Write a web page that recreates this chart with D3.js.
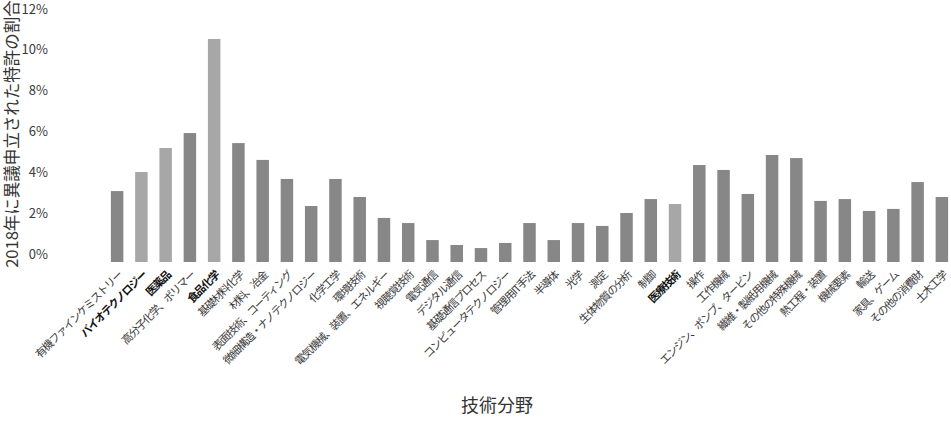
<!DOCTYPE html>
<html lang="ja">
<head>
<meta charset="UTF-8">
<title>異議申立の割合</title>
<script src="https://d3js.org/d3.v7.min.js"></script>
<style>
  body { margin: 0; background: #fff; }
  text { font-family: "Noto Sans CJK JP", "Noto Sans", sans-serif; }
</style>
</head>
<body>
<script>
// technology fields and share of opposed patents (%), 2018
var fields = [
  "有機ファインケミストリー", "バイオテクノロジー", "医薬品", "高分子化学、ポリマー", "食品化学",
  "基礎材料化学", "材料、冶金", "表面技術、コーティング", "微細構造・ナノテクノロジー", "化学工学",
  "環境技術", "電気機械、装置、エネルギー", "視聴覚技術", "電気通信", "デジタル通信",
  "基礎通信プロセス", "コンピュータテクノロジー", "管理用IT手法", "半導体", "光学",
  "測定", "生体物質の分析", "制御", "医療技術", "操作",
  "工作機械", "エンジン、ポンプ、タービン", "繊維・製紙用機械", "その他の特殊機械", "熱工程・装置",
  "機械要素", "輸送", "家具、ゲーム", "その他の消費財", "土木工学"
];
var shares = [
  3.46, 4.39, 5.56, 6.29, 10.88,
  5.80, 4.98, 4.05, 2.73, 4.05,
  3.17, 2.15, 1.90, 1.07, 0.83,
  0.68, 0.93, 1.90, 1.07, 1.90,
  1.76, 2.39, 3.07, 2.83, 4.73,
  4.49, 3.32, 5.22, 5.07, 2.98,
  3.07, 2.49, 2.59, 3.90, 3.17
];
var highlighted = ["バイオテクノロジー", "医薬品", "食品化学", "医療技術"];
var yTicks = [0, 2, 4, 6, 8, 10, 12];

var w = 951, h = 421;

var svg = d3.select("body").append("svg")
  .attr("width", w)
  .attr("height", h);

var x = d3.scaleBand()
  .domain(fields)
  .range([105, 954])
  .paddingInner(0.485)
  .paddingOuter(0.2425);

var y = d3.scaleLinear()
  .domain([0, 12])
  .range([262, 16]);

// y tick labels (sit just above their value)
svg.append("g")
  .selectAll("text")
  .data(yTicks)
  .enter()
  .append("text")
  .attr("x", 48)
  .attr("y", function(d) { return Math.max(y(d) - 3, 14); })
  .attr("text-anchor", "end")
  .attr("fill", "#3a3a3a")
  .style("font-size", "13px")
  .text(function(d) { return d + "%"; });

// bars
svg.append("g")
  .selectAll("rect")
  .data(fields)
  .enter()
  .append("rect")
  .attr("x", function(d) { return x(d); })
  .attr("y", function(d, i) { return y(shares[i]); })
  .attr("width", x.bandwidth())
  .attr("height", function(d, i) { return y(0) - y(shares[i]); })
  .attr("fill", function(d) {
    return highlighted.indexOf(d) >= 0 ? "#a7a7a7" : "#878787";
  });

// x tick labels, rotated
svg.append("g")
  .selectAll("text")
  .data(fields)
  .enter()
  .append("text")
  .attr("transform", function(d) {
    var cx = x(d) + x.bandwidth() / 2 + 3;
    return "translate(" + cx + ",273) rotate(-45)";
  })
  .attr("text-anchor", "end")
  .attr("dy", "0.35em")
  .attr("fill", function(d) { return highlighted.indexOf(d) >= 0 ? "#111" : "#3a3a3a"; })
  .style("font-size", "11px")
  .style("letter-spacing", "-1.2px")
  .style("font-weight", function(d) { return highlighted.indexOf(d) >= 0 ? "bold" : "normal"; })
  .text(function(d) { return d; });

// axis titles
svg.append("text")
  .attr("transform", "translate(18,134) rotate(-90)")
  .attr("text-anchor", "middle")
  .attr("fill", "#333")
  .style("font-size", "16.5px")
  .text("2018年に異議申立された特許の割合");

svg.append("text")
  .attr("x", 497)
  .attr("y", 412)
  .attr("text-anchor", "middle")
  .attr("fill", "#333")
  .style("font-size", "18px")
  .text("技術分野");
</script>
</body>
</html>
